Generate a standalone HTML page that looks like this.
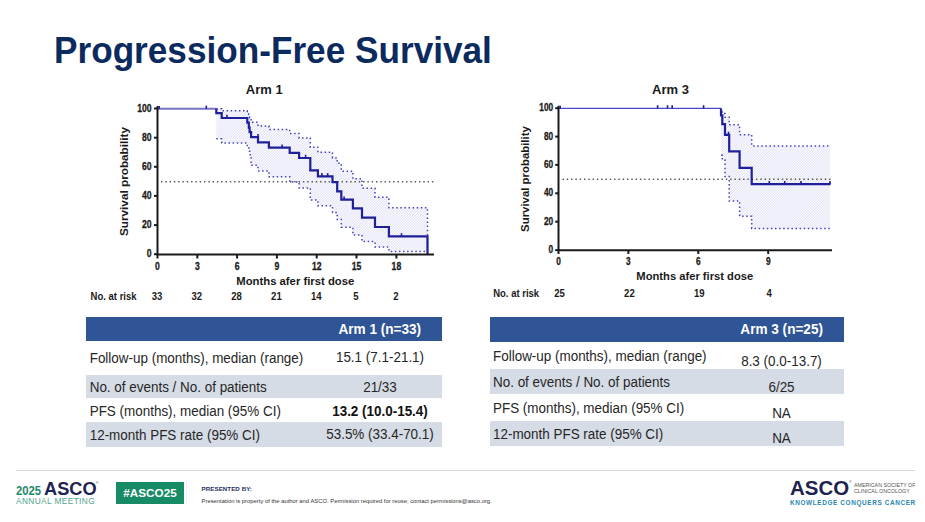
<!DOCTYPE html>
<html><head><meta charset="utf-8"><style>
*{margin:0;padding:0;box-sizing:border-box}
html,body{width:925px;height:522px;overflow:hidden;background:#fff}
body{position:relative;font-family:"Liberation Sans",sans-serif;color:#262626}
.a{position:absolute;white-space:nowrap}
.title{left:53.5px;top:32px;font-size:34.7px;font-weight:bold;color:#0b2a5e;transform:scale(1.014,1.08);transform-origin:0 0;line-height:1}
.hdr{position:absolute;background:#2f5597}
.gr{position:absolute;background:#d6dce5}
.t{position:absolute;white-space:nowrap;font-size:13.45px;line-height:1;transform:scaleY(1.075);transform-origin:0 0}
.c{text-align:center}
.h{color:#fff;font-weight:bold;font-size:13.58px}
</style></head><body>
<div class="a title">Progression-Free Survival</div>
<svg width="925" height="522" viewBox="0 0 925 522" style="position:absolute;left:0;top:0">

<clipPath id="cl"><polygon points="216.3,108.8 221.7,108.8 221.7,110.8 247.3,110.8 247.3,111.5 248.8,111.5 248.8,114.6 249.6,114.6 249.6,117.7 251.1,117.7 251.1,122.3 258.0,122.3 258.0,126.0 268.9,126.0 268.9,129.5 289.7,129.5 289.7,133.5 299.1,133.5 299.1,137.9 310.3,137.9 310.3,147.3 317.9,147.3 317.9,152.2 332.5,152.2 332.5,158.0 337.2,158.0 337.2,163.2 341.3,163.2 341.3,171.2 352.9,171.2 352.9,178.8 362.0,178.8 362.0,188.2 375.0,188.2 375.0,197.3 388.9,197.3 388.9,207.7 427.5,207.7 427.5,251.4 388.9,251.4 388.9,247.1 375.0,247.1 375.0,241.6 362.0,241.6 362.0,235.0 352.9,235.0 352.9,227.2 341.3,227.2 341.3,219.5 337.2,219.5 337.2,212.5 332.5,212.5 332.5,205.8 317.9,205.8 317.9,200.0 310.3,200.0 310.3,187.9 299.1,187.9 299.1,182.1 289.7,182.1 289.7,176.8 268.9,176.8 268.9,170.9 258.0,170.9 258.0,165.3 251.1,165.3 251.1,156.1 250.3,156.1 250.3,152.1 249.6,152.1 249.6,148.8 248.8,148.8 248.8,145.6 247.3,145.6 247.3,143.0 221.7,143.0 221.7,138.8 216.3,138.8"/></clipPath><polygon points="216.3,108.8 221.7,108.8 221.7,110.8 247.3,110.8 247.3,111.5 248.8,111.5 248.8,114.6 249.6,114.6 249.6,117.7 251.1,117.7 251.1,122.3 258.0,122.3 258.0,126.0 268.9,126.0 268.9,129.5 289.7,129.5 289.7,133.5 299.1,133.5 299.1,137.9 310.3,137.9 310.3,147.3 317.9,147.3 317.9,152.2 332.5,152.2 332.5,158.0 337.2,158.0 337.2,163.2 341.3,163.2 341.3,171.2 352.9,171.2 352.9,178.8 362.0,178.8 362.0,188.2 375.0,188.2 375.0,197.3 388.9,197.3 388.9,207.7 427.5,207.7 427.5,251.4 388.9,251.4 388.9,247.1 375.0,247.1 375.0,241.6 362.0,241.6 362.0,235.0 352.9,235.0 352.9,227.2 341.3,227.2 341.3,219.5 337.2,219.5 337.2,212.5 332.5,212.5 332.5,205.8 317.9,205.8 317.9,200.0 310.3,200.0 310.3,187.9 299.1,187.9 299.1,182.1 289.7,182.1 289.7,176.8 268.9,176.8 268.9,170.9 258.0,170.9 258.0,165.3 251.1,165.3 251.1,156.1 250.3,156.1 250.3,152.1 249.6,152.1 249.6,148.8 248.8,148.8 248.8,145.6 247.3,145.6 247.3,143.0 221.7,143.0 221.7,138.8 216.3,138.8" fill="#f9f9fe"/><g clip-path="url(#cl)" stroke="#dcdcf2" stroke-width="0.9"><line x1="72.00" y1="252" x2="216.00" y2="108"/><line x1="74.60" y1="252" x2="218.60" y2="108"/><line x1="77.20" y1="252" x2="221.20" y2="108"/><line x1="79.80" y1="252" x2="223.80" y2="108"/><line x1="82.40" y1="252" x2="226.40" y2="108"/><line x1="85.00" y1="252" x2="229.00" y2="108"/><line x1="87.60" y1="252" x2="231.60" y2="108"/><line x1="90.20" y1="252" x2="234.20" y2="108"/><line x1="92.80" y1="252" x2="236.80" y2="108"/><line x1="95.40" y1="252" x2="239.40" y2="108"/><line x1="98.00" y1="252" x2="242.00" y2="108"/><line x1="100.60" y1="252" x2="244.60" y2="108"/><line x1="103.20" y1="252" x2="247.20" y2="108"/><line x1="105.80" y1="252" x2="249.80" y2="108"/><line x1="108.40" y1="252" x2="252.40" y2="108"/><line x1="111.00" y1="252" x2="255.00" y2="108"/><line x1="113.60" y1="252" x2="257.60" y2="108"/><line x1="116.20" y1="252" x2="260.20" y2="108"/><line x1="118.80" y1="252" x2="262.80" y2="108"/><line x1="121.40" y1="252" x2="265.40" y2="108"/><line x1="124.00" y1="252" x2="268.00" y2="108"/><line x1="126.60" y1="252" x2="270.60" y2="108"/><line x1="129.20" y1="252" x2="273.20" y2="108"/><line x1="131.80" y1="252" x2="275.80" y2="108"/><line x1="134.40" y1="252" x2="278.40" y2="108"/><line x1="137.00" y1="252" x2="281.00" y2="108"/><line x1="139.60" y1="252" x2="283.60" y2="108"/><line x1="142.20" y1="252" x2="286.20" y2="108"/><line x1="144.80" y1="252" x2="288.80" y2="108"/><line x1="147.40" y1="252" x2="291.40" y2="108"/><line x1="150.00" y1="252" x2="294.00" y2="108"/><line x1="152.60" y1="252" x2="296.60" y2="108"/><line x1="155.20" y1="252" x2="299.20" y2="108"/><line x1="157.80" y1="252" x2="301.80" y2="108"/><line x1="160.40" y1="252" x2="304.40" y2="108"/><line x1="163.00" y1="252" x2="307.00" y2="108"/><line x1="165.60" y1="252" x2="309.60" y2="108"/><line x1="168.20" y1="252" x2="312.20" y2="108"/><line x1="170.80" y1="252" x2="314.80" y2="108"/><line x1="173.40" y1="252" x2="317.40" y2="108"/><line x1="176.00" y1="252" x2="320.00" y2="108"/><line x1="178.60" y1="252" x2="322.60" y2="108"/><line x1="181.20" y1="252" x2="325.20" y2="108"/><line x1="183.80" y1="252" x2="327.80" y2="108"/><line x1="186.40" y1="252" x2="330.40" y2="108"/><line x1="189.00" y1="252" x2="333.00" y2="108"/><line x1="191.60" y1="252" x2="335.60" y2="108"/><line x1="194.20" y1="252" x2="338.20" y2="108"/><line x1="196.80" y1="252" x2="340.80" y2="108"/><line x1="199.40" y1="252" x2="343.40" y2="108"/><line x1="202.00" y1="252" x2="346.00" y2="108"/><line x1="204.60" y1="252" x2="348.60" y2="108"/><line x1="207.20" y1="252" x2="351.20" y2="108"/><line x1="209.80" y1="252" x2="353.80" y2="108"/><line x1="212.40" y1="252" x2="356.40" y2="108"/><line x1="215.00" y1="252" x2="359.00" y2="108"/><line x1="217.60" y1="252" x2="361.60" y2="108"/><line x1="220.20" y1="252" x2="364.20" y2="108"/><line x1="222.80" y1="252" x2="366.80" y2="108"/><line x1="225.40" y1="252" x2="369.40" y2="108"/><line x1="228.00" y1="252" x2="372.00" y2="108"/><line x1="230.60" y1="252" x2="374.60" y2="108"/><line x1="233.20" y1="252" x2="377.20" y2="108"/><line x1="235.80" y1="252" x2="379.80" y2="108"/><line x1="238.40" y1="252" x2="382.40" y2="108"/><line x1="241.00" y1="252" x2="385.00" y2="108"/><line x1="243.60" y1="252" x2="387.60" y2="108"/><line x1="246.20" y1="252" x2="390.20" y2="108"/><line x1="248.80" y1="252" x2="392.80" y2="108"/><line x1="251.40" y1="252" x2="395.40" y2="108"/><line x1="254.00" y1="252" x2="398.00" y2="108"/><line x1="256.60" y1="252" x2="400.60" y2="108"/><line x1="259.20" y1="252" x2="403.20" y2="108"/><line x1="261.80" y1="252" x2="405.80" y2="108"/><line x1="264.40" y1="252" x2="408.40" y2="108"/><line x1="267.00" y1="252" x2="411.00" y2="108"/><line x1="269.60" y1="252" x2="413.60" y2="108"/><line x1="272.20" y1="252" x2="416.20" y2="108"/><line x1="274.80" y1="252" x2="418.80" y2="108"/><line x1="277.40" y1="252" x2="421.40" y2="108"/><line x1="280.00" y1="252" x2="424.00" y2="108"/><line x1="282.60" y1="252" x2="426.60" y2="108"/><line x1="285.20" y1="252" x2="429.20" y2="108"/><line x1="287.80" y1="252" x2="431.80" y2="108"/><line x1="290.40" y1="252" x2="434.40" y2="108"/><line x1="293.00" y1="252" x2="437.00" y2="108"/><line x1="295.60" y1="252" x2="439.60" y2="108"/><line x1="298.20" y1="252" x2="442.20" y2="108"/><line x1="300.80" y1="252" x2="444.80" y2="108"/><line x1="303.40" y1="252" x2="447.40" y2="108"/><line x1="306.00" y1="252" x2="450.00" y2="108"/><line x1="308.60" y1="252" x2="452.60" y2="108"/><line x1="311.20" y1="252" x2="455.20" y2="108"/><line x1="313.80" y1="252" x2="457.80" y2="108"/><line x1="316.40" y1="252" x2="460.40" y2="108"/><line x1="319.00" y1="252" x2="463.00" y2="108"/><line x1="321.60" y1="252" x2="465.60" y2="108"/><line x1="324.20" y1="252" x2="468.20" y2="108"/><line x1="326.80" y1="252" x2="470.80" y2="108"/><line x1="329.40" y1="252" x2="473.40" y2="108"/><line x1="332.00" y1="252" x2="476.00" y2="108"/><line x1="334.60" y1="252" x2="478.60" y2="108"/><line x1="337.20" y1="252" x2="481.20" y2="108"/><line x1="339.80" y1="252" x2="483.80" y2="108"/><line x1="342.40" y1="252" x2="486.40" y2="108"/><line x1="345.00" y1="252" x2="489.00" y2="108"/><line x1="347.60" y1="252" x2="491.60" y2="108"/><line x1="350.20" y1="252" x2="494.20" y2="108"/><line x1="352.80" y1="252" x2="496.80" y2="108"/><line x1="355.40" y1="252" x2="499.40" y2="108"/><line x1="358.00" y1="252" x2="502.00" y2="108"/><line x1="360.60" y1="252" x2="504.60" y2="108"/><line x1="363.20" y1="252" x2="507.20" y2="108"/><line x1="365.80" y1="252" x2="509.80" y2="108"/><line x1="368.40" y1="252" x2="512.40" y2="108"/><line x1="371.00" y1="252" x2="515.00" y2="108"/><line x1="373.60" y1="252" x2="517.60" y2="108"/><line x1="376.20" y1="252" x2="520.20" y2="108"/><line x1="378.80" y1="252" x2="522.80" y2="108"/><line x1="381.40" y1="252" x2="525.40" y2="108"/><line x1="384.00" y1="252" x2="528.00" y2="108"/><line x1="386.60" y1="252" x2="530.60" y2="108"/><line x1="389.20" y1="252" x2="533.20" y2="108"/><line x1="391.80" y1="252" x2="535.80" y2="108"/><line x1="394.40" y1="252" x2="538.40" y2="108"/><line x1="397.00" y1="252" x2="541.00" y2="108"/><line x1="399.60" y1="252" x2="543.60" y2="108"/><line x1="402.20" y1="252" x2="546.20" y2="108"/><line x1="404.80" y1="252" x2="548.80" y2="108"/><line x1="407.40" y1="252" x2="551.40" y2="108"/><line x1="410.00" y1="252" x2="554.00" y2="108"/><line x1="412.60" y1="252" x2="556.60" y2="108"/><line x1="415.20" y1="252" x2="559.20" y2="108"/><line x1="417.80" y1="252" x2="561.80" y2="108"/><line x1="420.40" y1="252" x2="564.40" y2="108"/><line x1="423.00" y1="252" x2="567.00" y2="108"/><line x1="425.60" y1="252" x2="569.60" y2="108"/></g>
<clipPath id="cr"><polygon points="721.0,108.4 721.0,111.2 722.3,111.2 722.3,113.6 725.0,113.6 725.0,117.3 729.2,117.3 729.2,124.8 739.6,124.8 739.6,134.8 751.7,134.8 751.7,146.0 830.0,146.0 830.0,228.4 751.7,228.4 751.7,216.2 739.6,216.2 739.6,201.0 729.2,201.0 729.2,176.5 725.0,176.5 725.0,160.0 722.3,160.0 722.3,155.3 721.0,155.3"/></clipPath><polygon points="721.0,108.4 721.0,111.2 722.3,111.2 722.3,113.6 725.0,113.6 725.0,117.3 729.2,117.3 729.2,124.8 739.6,124.8 739.6,134.8 751.7,134.8 751.7,146.0 830.0,146.0 830.0,228.4 751.7,228.4 751.7,216.2 739.6,216.2 739.6,201.0 729.2,201.0 729.2,176.5 725.0,176.5 725.0,160.0 722.3,160.0 722.3,155.3 721.0,155.3" fill="#f9f9fe"/><g clip-path="url(#cr)" stroke="#dcdcf2" stroke-width="0.9"><line x1="600.00" y1="229" x2="721.00" y2="108"/><line x1="602.60" y1="229" x2="723.60" y2="108"/><line x1="605.20" y1="229" x2="726.20" y2="108"/><line x1="607.80" y1="229" x2="728.80" y2="108"/><line x1="610.40" y1="229" x2="731.40" y2="108"/><line x1="613.00" y1="229" x2="734.00" y2="108"/><line x1="615.60" y1="229" x2="736.60" y2="108"/><line x1="618.20" y1="229" x2="739.20" y2="108"/><line x1="620.80" y1="229" x2="741.80" y2="108"/><line x1="623.40" y1="229" x2="744.40" y2="108"/><line x1="626.00" y1="229" x2="747.00" y2="108"/><line x1="628.60" y1="229" x2="749.60" y2="108"/><line x1="631.20" y1="229" x2="752.20" y2="108"/><line x1="633.80" y1="229" x2="754.80" y2="108"/><line x1="636.40" y1="229" x2="757.40" y2="108"/><line x1="639.00" y1="229" x2="760.00" y2="108"/><line x1="641.60" y1="229" x2="762.60" y2="108"/><line x1="644.20" y1="229" x2="765.20" y2="108"/><line x1="646.80" y1="229" x2="767.80" y2="108"/><line x1="649.40" y1="229" x2="770.40" y2="108"/><line x1="652.00" y1="229" x2="773.00" y2="108"/><line x1="654.60" y1="229" x2="775.60" y2="108"/><line x1="657.20" y1="229" x2="778.20" y2="108"/><line x1="659.80" y1="229" x2="780.80" y2="108"/><line x1="662.40" y1="229" x2="783.40" y2="108"/><line x1="665.00" y1="229" x2="786.00" y2="108"/><line x1="667.60" y1="229" x2="788.60" y2="108"/><line x1="670.20" y1="229" x2="791.20" y2="108"/><line x1="672.80" y1="229" x2="793.80" y2="108"/><line x1="675.40" y1="229" x2="796.40" y2="108"/><line x1="678.00" y1="229" x2="799.00" y2="108"/><line x1="680.60" y1="229" x2="801.60" y2="108"/><line x1="683.20" y1="229" x2="804.20" y2="108"/><line x1="685.80" y1="229" x2="806.80" y2="108"/><line x1="688.40" y1="229" x2="809.40" y2="108"/><line x1="691.00" y1="229" x2="812.00" y2="108"/><line x1="693.60" y1="229" x2="814.60" y2="108"/><line x1="696.20" y1="229" x2="817.20" y2="108"/><line x1="698.80" y1="229" x2="819.80" y2="108"/><line x1="701.40" y1="229" x2="822.40" y2="108"/><line x1="704.00" y1="229" x2="825.00" y2="108"/><line x1="706.60" y1="229" x2="827.60" y2="108"/><line x1="709.20" y1="229" x2="830.20" y2="108"/><line x1="711.80" y1="229" x2="832.80" y2="108"/><line x1="714.40" y1="229" x2="835.40" y2="108"/><line x1="717.00" y1="229" x2="838.00" y2="108"/><line x1="719.60" y1="229" x2="840.60" y2="108"/><line x1="722.20" y1="229" x2="843.20" y2="108"/><line x1="724.80" y1="229" x2="845.80" y2="108"/><line x1="727.40" y1="229" x2="848.40" y2="108"/><line x1="730.00" y1="229" x2="851.00" y2="108"/><line x1="732.60" y1="229" x2="853.60" y2="108"/><line x1="735.20" y1="229" x2="856.20" y2="108"/><line x1="737.80" y1="229" x2="858.80" y2="108"/><line x1="740.40" y1="229" x2="861.40" y2="108"/><line x1="743.00" y1="229" x2="864.00" y2="108"/><line x1="745.60" y1="229" x2="866.60" y2="108"/><line x1="748.20" y1="229" x2="869.20" y2="108"/><line x1="750.80" y1="229" x2="871.80" y2="108"/><line x1="753.40" y1="229" x2="874.40" y2="108"/><line x1="756.00" y1="229" x2="877.00" y2="108"/><line x1="758.60" y1="229" x2="879.60" y2="108"/><line x1="761.20" y1="229" x2="882.20" y2="108"/><line x1="763.80" y1="229" x2="884.80" y2="108"/><line x1="766.40" y1="229" x2="887.40" y2="108"/><line x1="769.00" y1="229" x2="890.00" y2="108"/><line x1="771.60" y1="229" x2="892.60" y2="108"/><line x1="774.20" y1="229" x2="895.20" y2="108"/><line x1="776.80" y1="229" x2="897.80" y2="108"/><line x1="779.40" y1="229" x2="900.40" y2="108"/><line x1="782.00" y1="229" x2="903.00" y2="108"/><line x1="784.60" y1="229" x2="905.60" y2="108"/><line x1="787.20" y1="229" x2="908.20" y2="108"/><line x1="789.80" y1="229" x2="910.80" y2="108"/><line x1="792.40" y1="229" x2="913.40" y2="108"/><line x1="795.00" y1="229" x2="916.00" y2="108"/><line x1="797.60" y1="229" x2="918.60" y2="108"/><line x1="800.20" y1="229" x2="921.20" y2="108"/><line x1="802.80" y1="229" x2="923.80" y2="108"/><line x1="805.40" y1="229" x2="926.40" y2="108"/><line x1="808.00" y1="229" x2="929.00" y2="108"/><line x1="810.60" y1="229" x2="931.60" y2="108"/><line x1="813.20" y1="229" x2="934.20" y2="108"/><line x1="815.80" y1="229" x2="936.80" y2="108"/><line x1="818.40" y1="229" x2="939.40" y2="108"/><line x1="821.00" y1="229" x2="942.00" y2="108"/><line x1="823.60" y1="229" x2="944.60" y2="108"/><line x1="826.20" y1="229" x2="947.20" y2="108"/><line x1="828.80" y1="229" x2="949.80" y2="108"/></g>
<g stroke="#555" stroke-width="1.4" stroke-dasharray="1.4 2.9">
<line x1="161" y1="181.7" x2="434" y2="181.7"/>
<line x1="562.5" y1="179.2" x2="831" y2="179.2"/>
</g>
<g fill="none" stroke="#4343bd" stroke-width="1.5" stroke-dasharray="1.5 2.6">
<path d="M216.3,108.8 L221.7,108.8 L221.7,110.8 L247.3,110.8 L247.3,111.5 L248.8,111.5 L248.8,114.6 L249.6,114.6 L249.6,117.7 L251.1,117.7 L251.1,122.3 L258.0,122.3 L258.0,126.0 L268.9,126.0 L268.9,129.5 L289.7,129.5 L289.7,133.5 L299.1,133.5 L299.1,137.9 L310.3,137.9 L310.3,147.3 L317.9,147.3 L317.9,152.2 L332.5,152.2 L332.5,158.0 L337.2,158.0 L337.2,163.2 L341.3,163.2 L341.3,171.2 L352.9,171.2 L352.9,178.8 L362.0,178.8 L362.0,188.2 L375.0,188.2 L375.0,197.3 L388.9,197.3 L388.9,207.7 L427.5,207.7 L427.5,251.4"/>
<path d="M216.3,138.8 L221.7,138.8 L221.7,143.0 L247.3,143.0 L247.3,145.6 L248.8,145.6 L248.8,148.8 L249.6,148.8 L249.6,152.1 L250.3,152.1 L250.3,156.1 L251.1,156.1 L251.1,165.3 L258.0,165.3 L258.0,170.9 L268.9,170.9 L268.9,176.8 L289.7,176.8 L289.7,182.1 L299.1,182.1 L299.1,187.9 L310.3,187.9 L310.3,200.0 L317.9,200.0 L317.9,205.8 L332.5,205.8 L332.5,212.5 L337.2,212.5 L337.2,219.5 L341.3,219.5 L341.3,227.2 L352.9,227.2 L352.9,235.0 L362.0,235.0 L362.0,241.6 L375.0,241.6 L375.0,247.1 L388.9,247.1 L388.9,251.4 L427.5,251.4"/>
<path d="M721.0,108.4 L721.0,111.2 L722.3,111.2 L722.3,113.6 L725.0,113.6 L725.0,117.3 L729.2,117.3 L729.2,124.8 L739.6,124.8 L739.6,134.8 L751.7,134.8 L751.7,146.0 L830.0,146.0"/>
<path d="M721.0,155.3 L722.3,155.3 L722.3,160.0 L725.0,160.0 L725.0,176.5 L729.2,176.5 L729.2,201.0 L739.6,201.0 L739.6,216.2 L751.7,216.2 L751.7,228.4 L830.0,228.4"/>
</g>
<path d="M158,108.8 H216.3" stroke="#7474c2" stroke-width="2" fill="none"/>
<path d="M216.3,108.8 V113.2 H221.7 V118 H247.3 V122.6 H248.8 V127.6 H249.6 V132.2 H251.1 V137.2 H258 V142.3 H268.9 V147.6 H289.7 V152.9 H299.1 V158 H310.3 V170.3 H317.9 V176.3 H332.5 V182.2 H337.2 V191.3 H341.3 V199.6 H352.9 V208.3 H362 V217.6 H375 V227 H388.9 V236.4 H427.5 V254" stroke="#1f1f99" stroke-width="2.2" fill="none"/>
<path d="M559,108.4 H721" stroke="#4848c4" stroke-width="1.3" fill="none"/>
<path d="M721,108.4 V115.4 H722.3 V124.2 H725 V134.9 H729.2 V151.4 H739.6 V167.8 H751.7 V184.2 H830.4" stroke="#1f1f99" stroke-width="2.2" fill="none"/>
<g stroke="#1f1f99" stroke-width="1.6">
<line x1="159.2" y1="108.8" x2="159.2" y2="106.0"/>
<line x1="560.2" y1="108.4" x2="560.2" y2="105.80000000000001"/>
<line x1="206.3" y1="108.8" x2="206.3" y2="105.6"/>
<line x1="226.9" y1="118" x2="226.9" y2="114.8"/>
<line x1="258" y1="137.2" x2="258" y2="134.0"/>
<line x1="282.1" y1="147.6" x2="282.1" y2="144.4"/>
<line x1="305.6" y1="158" x2="305.6" y2="154.8"/>
<line x1="321.9" y1="176.3" x2="321.9" y2="173.10000000000002"/><line x1="327.7" y1="176.3" x2="327.7" y2="173.10000000000002"/>
<line x1="344.1" y1="199.6" x2="344.1" y2="196.4"/>
<line x1="401.5" y1="236.4" x2="401.5" y2="233.20000000000002"/>
<line x1="657.6" y1="108.4" x2="657.6" y2="105.2"/><line x1="667.5" y1="108.4" x2="667.5" y2="105.2"/><line x1="672.2" y1="108.4" x2="672.2" y2="105.2"/><line x1="703.6" y1="108.4" x2="703.6" y2="105.2"/>
<line x1="728.5" y1="134.9" x2="728.5" y2="131.70000000000002"/>
<line x1="769.3" y1="184.2" x2="769.3" y2="181.0"/><line x1="784.7" y1="184.2" x2="784.7" y2="181.0"/><line x1="801" y1="184.2" x2="801" y2="181.0"/><line x1="830" y1="184.2" x2="830" y2="181.0"/>
</g>
<g stroke="#1a1a1a" stroke-width="2" fill="none">
<path d="M157.5,106 V254.6 H434"/>
<line x1="154" y1="108.5" x2="157.5" y2="108.5"/><line x1="154" y1="137.7" x2="157.5" y2="137.7"/><line x1="154" y1="166.8" x2="157.5" y2="166.8"/><line x1="154" y1="195.9" x2="157.5" y2="195.9"/><line x1="154" y1="225.1" x2="157.5" y2="225.1"/><line x1="154" y1="254.2" x2="157.5" y2="254.2"/>
<line x1="157.5" y1="254.6" x2="157.5" y2="258.5"/><line x1="197.3" y1="254.6" x2="197.3" y2="258.5"/><line x1="237.1" y1="254.6" x2="237.1" y2="258.5"/><line x1="276.9" y1="254.6" x2="276.9" y2="258.5"/><line x1="316.7" y1="254.6" x2="316.7" y2="258.5"/><line x1="356.5" y1="254.6" x2="356.5" y2="258.5"/><line x1="396.4" y1="254.6" x2="396.4" y2="258.5"/>
<path d="M558.5,105.8 V250.3 H832"/>
<line x1="555.2" y1="108.2" x2="558.5" y2="108.2"/><line x1="555.2" y1="136.6" x2="558.5" y2="136.6"/><line x1="555.2" y1="164.9" x2="558.5" y2="164.9"/><line x1="555.2" y1="193.3" x2="558.5" y2="193.3"/><line x1="555.2" y1="221.7" x2="558.5" y2="221.7"/><line x1="555.2" y1="250.1" x2="558.5" y2="250.1"/>
<line x1="558.5" y1="250.3" x2="558.5" y2="254" /><line x1="628.4" y1="250.3" x2="628.4" y2="254" /><line x1="698.3" y1="250.3" x2="698.3" y2="254" /><line x1="768.2" y1="250.3" x2="768.2" y2="254" />
</g>
<g font-weight="bold" fill="#1a1a1a" stroke="#1a1a1a" stroke-width="0.3">
<text transform="translate(151.6,111.5) scale(0.83,1)" text-anchor="end" font-size="10.4">100</text>
<text transform="translate(151.6,140.7) scale(0.83,1)" text-anchor="end" font-size="10.4">80</text>
<text transform="translate(151.6,169.8) scale(0.83,1)" text-anchor="end" font-size="10.4">60</text>
<text transform="translate(151.6,198.9) scale(0.83,1)" text-anchor="end" font-size="10.4">40</text>
<text transform="translate(151.6,228.1) scale(0.83,1)" text-anchor="end" font-size="10.4">20</text>
<text transform="translate(151.6,257.2) scale(0.83,1)" text-anchor="end" font-size="10.4">0</text>
<text transform="translate(553.2,111.1) scale(0.83,1)" text-anchor="end" font-size="10.0">100</text>
<text transform="translate(553.2,139.5) scale(0.83,1)" text-anchor="end" font-size="10.0">80</text>
<text transform="translate(553.2,167.8) scale(0.83,1)" text-anchor="end" font-size="10.0">60</text>
<text transform="translate(553.2,196.2) scale(0.83,1)" text-anchor="end" font-size="10.0">40</text>
<text transform="translate(553.2,224.6) scale(0.83,1)" text-anchor="end" font-size="10.0">20</text>
<text transform="translate(553.2,253.0) scale(0.83,1)" text-anchor="end" font-size="10.0">0</text>
<text transform="translate(157.5,269.7) scale(0.83,1)" text-anchor="middle" font-size="10.4">0</text>
<text transform="translate(197.3,269.7) scale(0.83,1)" text-anchor="middle" font-size="10.4">3</text>
<text transform="translate(237.1,269.7) scale(0.83,1)" text-anchor="middle" font-size="10.4">6</text>
<text transform="translate(276.9,269.7) scale(0.83,1)" text-anchor="middle" font-size="10.4">9</text>
<text transform="translate(316.7,269.7) scale(0.83,1)" text-anchor="middle" font-size="10.4">12</text>
<text transform="translate(356.5,269.7) scale(0.83,1)" text-anchor="middle" font-size="10.4">15</text>
<text transform="translate(396.4,269.7) scale(0.83,1)" text-anchor="middle" font-size="10.4">18</text>
<text transform="translate(558.5,264.9) scale(0.83,1)" text-anchor="middle" font-size="10.0">0</text>
<text transform="translate(628.4,264.9) scale(0.83,1)" text-anchor="middle" font-size="10.0">3</text>
<text transform="translate(698.3,264.9) scale(0.83,1)" text-anchor="middle" font-size="10.0">6</text>
<text transform="translate(768.2,264.9) scale(0.83,1)" text-anchor="middle" font-size="10.0">9</text>
</g>
<g font-weight="bold" fill="#1a1a1a">
<text x="264.3" y="94" text-anchor="middle" font-size="13">Arm 1</text>
<text x="670.5" y="94" text-anchor="middle" font-size="13">Arm 3</text>
<text x="295.3" y="285.2" text-anchor="middle" font-size="11.3">Months afer first dose</text>
<text x="694.8" y="279.6" text-anchor="middle" font-size="11.2">Months afer first dose</text>
<text transform="translate(128.2,181.5) rotate(-90)" text-anchor="middle" font-size="11.75">Survival probability</text>
<text transform="translate(529.3,179.05) rotate(-90)" text-anchor="middle" font-size="11.4">Survival probability</text>
<g>
<text transform="translate(90.6,300.1) scale(0.915,1)" text-anchor="start" font-size="10.4">No. at risk</text>
<text transform="translate(493.2,297.1) scale(0.915,1)" text-anchor="start" font-size="10.4">No. at risk</text>
<text transform="translate(157.0,300.1) scale(0.92,1)" text-anchor="middle" font-size="10.4">33</text>
<text transform="translate(196.8,300.1) scale(0.92,1)" text-anchor="middle" font-size="10.4">32</text>
<text transform="translate(236.6,300.1) scale(0.92,1)" text-anchor="middle" font-size="10.4">28</text>
<text transform="translate(276.4,300.1) scale(0.92,1)" text-anchor="middle" font-size="10.4">21</text>
<text transform="translate(316.2,300.1) scale(0.92,1)" text-anchor="middle" font-size="10.4">14</text>
<text transform="translate(356.0,300.1) scale(0.92,1)" text-anchor="middle" font-size="10.4">5</text>
<text transform="translate(395.9,300.1) scale(0.92,1)" text-anchor="middle" font-size="10.4">2</text>
<text transform="translate(559.5,297.1) scale(0.92,1)" text-anchor="middle" font-size="10.4">25</text>
<text transform="translate(629.4,297.1) scale(0.92,1)" text-anchor="middle" font-size="10.4">22</text>
<text transform="translate(699.3,297.1) scale(0.92,1)" text-anchor="middle" font-size="10.4">19</text>
<text transform="translate(769.2,297.1) scale(0.92,1)" text-anchor="middle" font-size="10.4">4</text>
</g></g>
</svg>
<div class="hdr" style="left:86px;top:316.8px;width:356px;height:23.8px"></div>
<div class="gr" style="left:86px;top:374.7px;width:356px;height:23.5px"></div>
<div class="gr" style="left:86px;top:422.2px;width:356px;height:24.4px"></div>
<div class="hdr" style="left:490px;top:316.8px;width:354px;height:25.5px"></div>
<div class="gr" style="left:490px;top:368.7px;width:354px;height:25.3px"></div>
<div class="gr" style="left:490px;top:421px;width:354px;height:25px"></div>
<div class="t" style="left:89.7px;top:350.5px;">Follow-up (months), median (range)</div>
<div class="t" style="left:89.7px;top:380.3px;">No. of events / No. of patients</div>
<div class="t" style="left:89.7px;top:404.1px;">PFS (months), median (95% CI)</div>
<div class="t" style="left:89.7px;top:427.9px;">12-month PFS rate (95% CI)</div>
<div class="t" style="left:493px;top:348.5px;">Follow-up (months), median (range)</div>
<div class="t" style="left:493px;top:374.6px;">No. of events / No. of patients</div>
<div class="t" style="left:493px;top:401.0px;">PFS (months), median (95% CI)</div>
<div class="t" style="left:493px;top:426.5px;">12-month PFS rate (95% CI)</div>
<div class="t c" style="left:309.8px;width:140px;top:322.1px;color:#fff;font-weight:bold;font-size:13.58px">Arm 1 (n=33)</div>
<div class="t c" style="left:711.7px;width:140px;top:322.0px;color:#fff;font-weight:bold;font-size:13.58px">Arm 3 (n=25)</div>
<div class="t c" style="left:310px;width:140px;top:350.4px;">15.1 (7.1-21.1)</div>
<div class="t c" style="left:310px;width:140px;top:379.6px;">21/33</div>
<div class="t c" style="left:310px;width:140px;top:404.1px;font-weight:bold;color:#111">13.2 (10.0-15.4)</div>
<div class="t c" style="left:310px;width:140px;top:427.1px;">53.5% (33.4-70.1)</div>
<div class="t c" style="left:711.5px;width:140px;top:353.7px;">8.3 (0.0-13.7)</div>
<div class="t c" style="left:711.5px;width:140px;top:380.0px;">6/25</div>
<div class="t c" style="left:711.5px;width:140px;top:406.0px;">NA</div>
<div class="t c" style="left:711.5px;width:140px;top:430.9px;">NA</div>
<div class="a" style="left:186px;top:480px;width:1px;height:24px;background:#f1f1f1"></div>
<div class="a" style="left:16px;top:469.6px;width:899px;height:1.1px;background:#dadada"></div>
<div class="a" style="left:16px;top:484.6px;font-size:11.3px;line-height:1;font-weight:bold;color:#1f8a6a;transform:scaleY(1.06);transform-origin:0 0">2025</div>
<div class="a" style="left:44px;top:480.6px;font-size:17.5px;line-height:1;font-weight:bold;color:#1d2350;transform:scale(1.04,1.0);transform-origin:0 0">ASCO</div>
<div class="a" style="left:16px;top:497px;font-size:8.3px;line-height:1;color:#4fa58a;letter-spacing:0.4px">ANNUAL MEETING</div>
<div class="a" style="left:96px;top:481.5px;font-size:3.2px;line-height:1;color:#1d2350">&#174;</div>
<div class="a" style="left:849px;top:480.6px;font-size:3.4px;line-height:1;color:#1d2350">&#174;</div>
<div class="a" style="left:116px;top:482.3px;width:68px;height:21.6px;background:#168b65"></div>
<div class="a" style="left:116px;top:487.3px;width:68px;text-align:center;font-size:11.7px;line-height:1;font-weight:bold;color:#fff">#ASCO25</div>
<div class="a" style="left:201.6px;top:486.3px;font-size:6.2px;line-height:1;font-weight:bold;color:#26315e;letter-spacing:0.05px">PRESENTED BY:</div>
<div class="a" style="left:201.6px;top:499.3px;font-size:5.85px;line-height:1;color:#333">Presentation is property of the author and ASCO. Permission required for reuse; contact permissions@asco.org.</div>
<div class="a" style="left:790px;top:478.2px;font-size:20.2px;line-height:1;font-weight:bold;color:#1d2350;transform:scaleX(1.013);transform-origin:0 0">ASCO</div>
<div class="a" style="left:854px;top:481.5px;font-size:5.3px;line-height:6.6px;color:#555">AMERICAN SOCIETY OF<br>CLINICAL ONCOLOGY</div>
<div class="a" style="left:790px;top:499.5px;font-size:6.4px;line-height:1;font-weight:bold;color:#2a86ad;letter-spacing:0.63px">KNOWLEDGE CONQUERS CANCER</div>
</body></html>
